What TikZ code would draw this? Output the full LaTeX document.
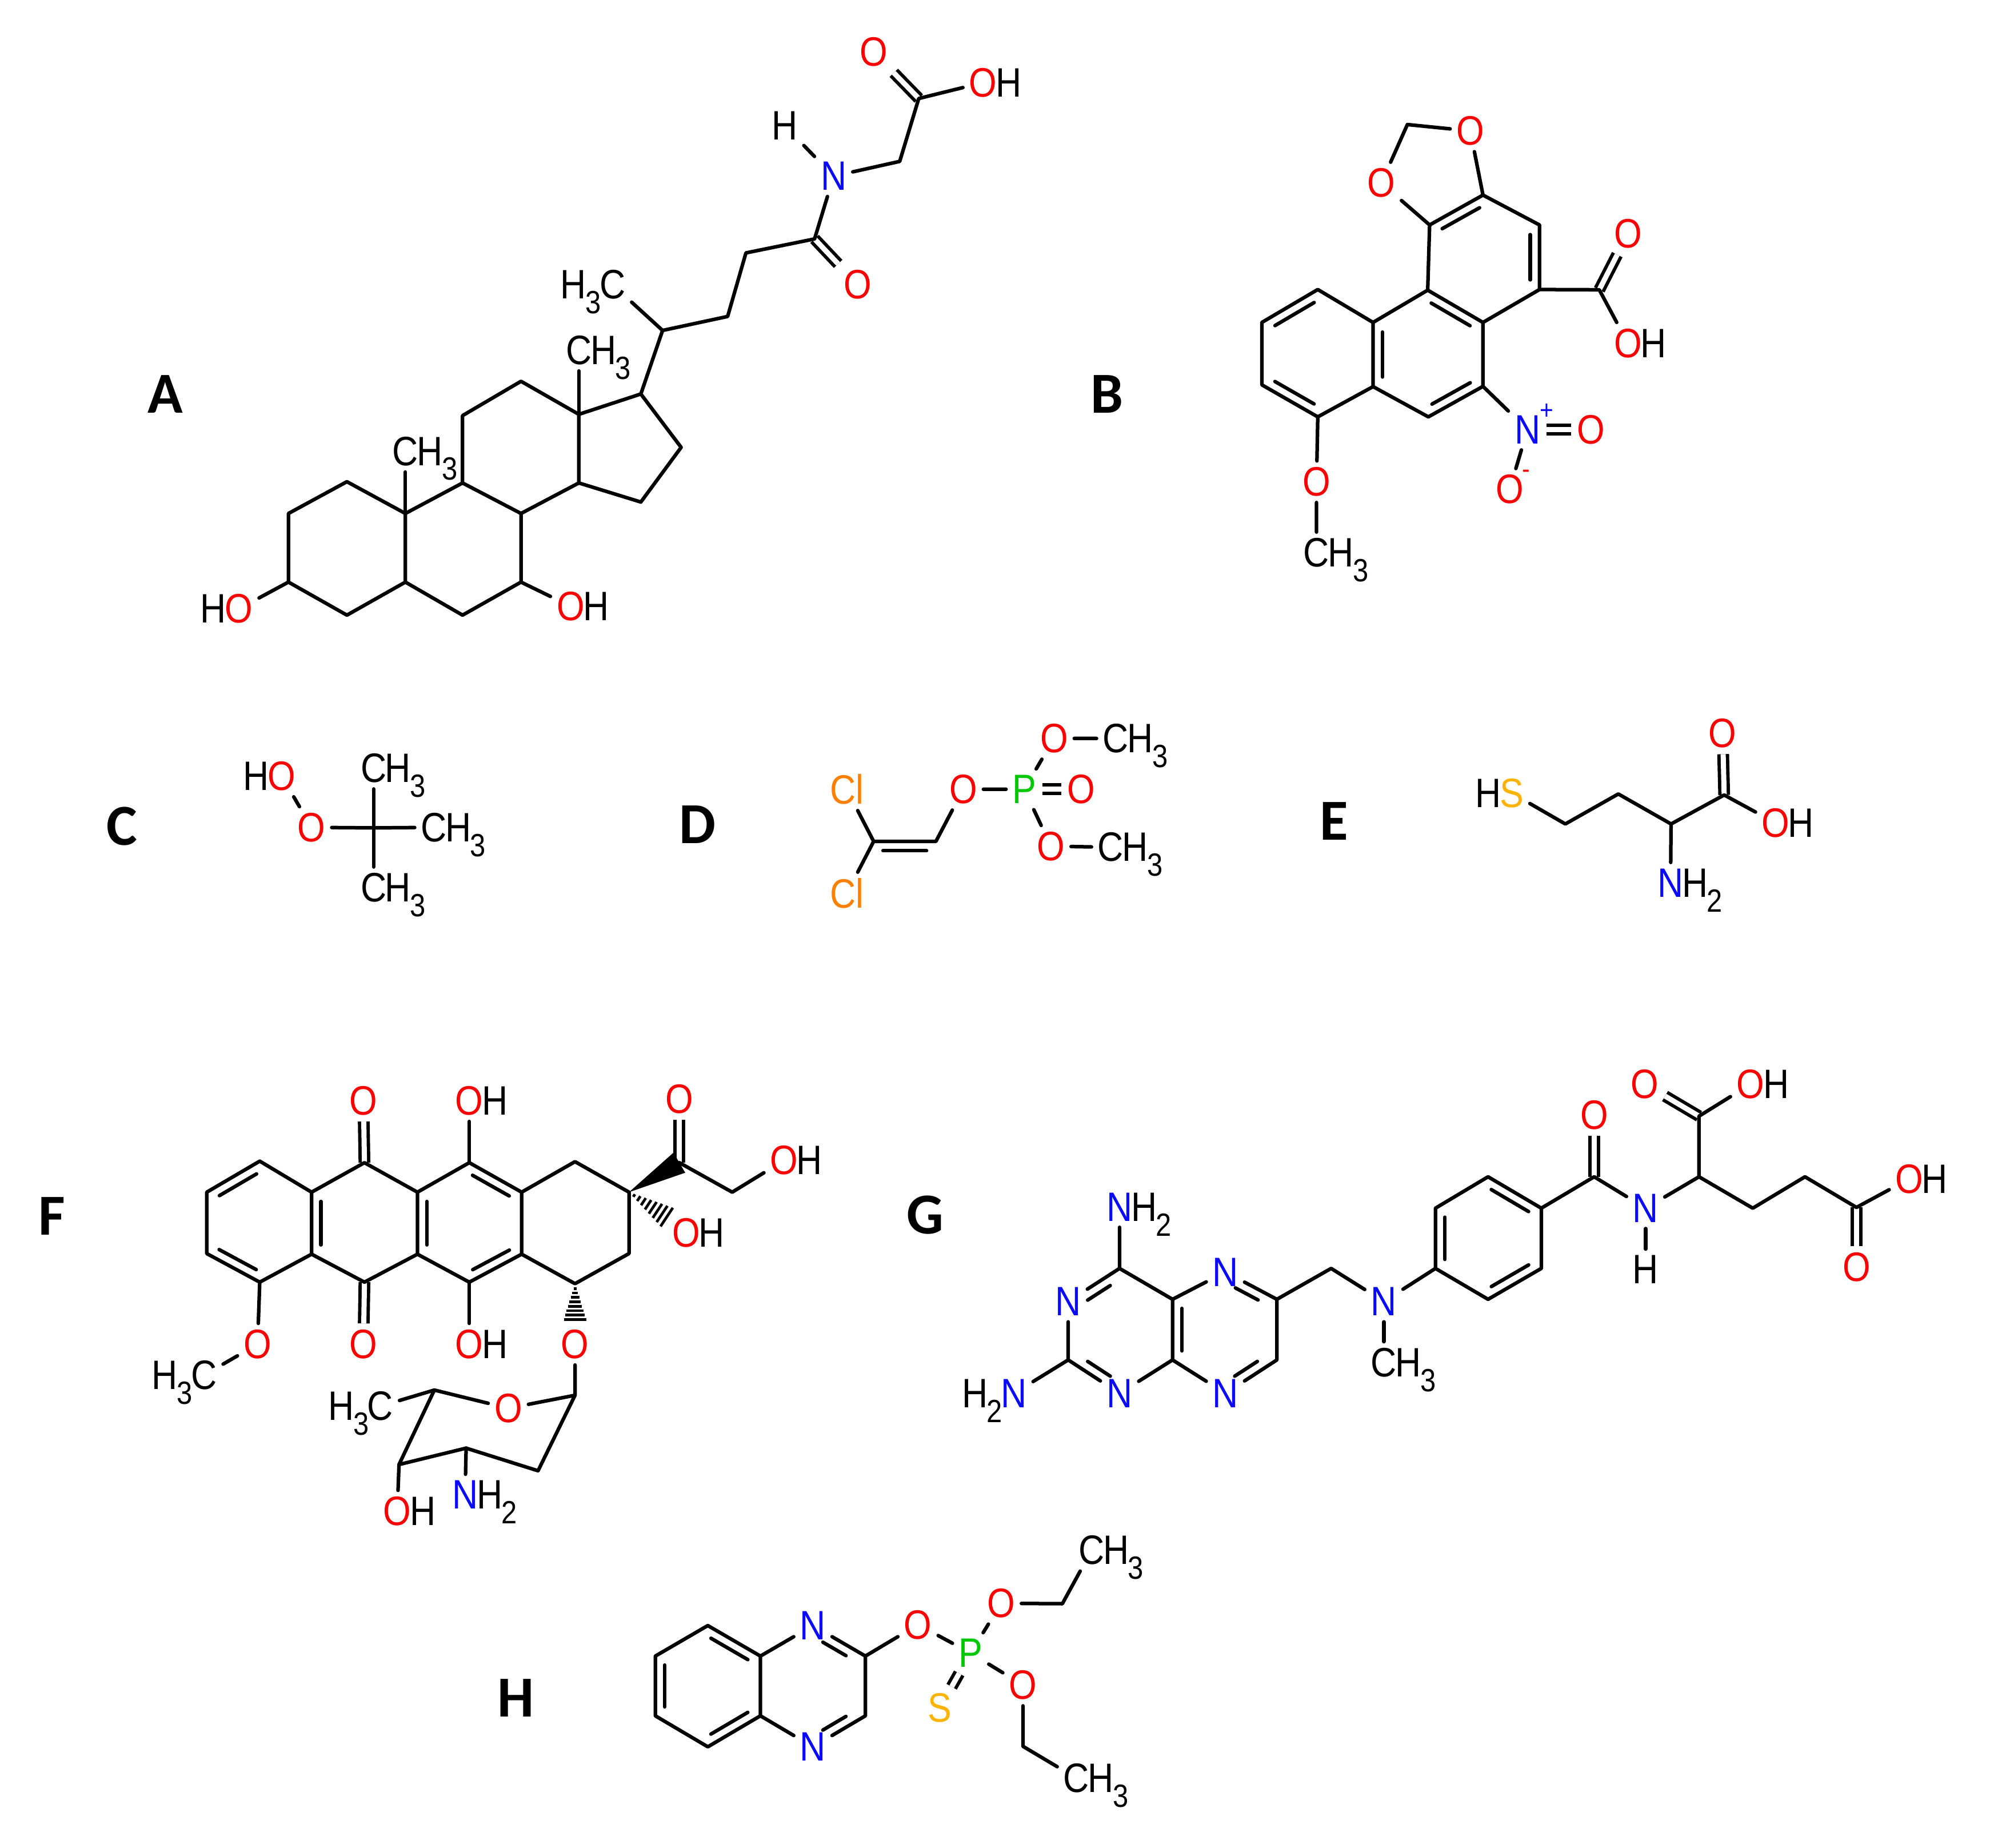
\documentclass[tikz,border=0pt]{standalone}
\usepackage{fontspec}
\setmainfont[FakeStretch=0.87]{Liberation Sans}
\newfontfamily\panelfont{Carlito}
\usetikzlibrary{calc}
\definecolor{atomred}{RGB}{255,0,0}
\definecolor{atomblue}{RGB}{10,10,255}
\definecolor{atomgreen}{RGB}{0,200,0}
\definecolor{atomorange}{RGB}{255,128,0}
\definecolor{atomyellow}{RGB}{255,178,0}
\newcommand{\sbs}[1]{\kern-.2pt\raisebox{-.36em}{\fontsize{7.2pt}{8pt}\selectfont #1}}
\newcommand{\innerbond}[3][.15]{\draw [bond] ($(#2)!#1!(#3)!2.1pt!90:(#3)$) -- ($(#3)!#1!(#2)!2.1pt!-90:(#2)$);}
\newcommand{\hashbond}[2]{\foreach \t in {.12,.23,...,1} {\draw [line width=.6pt] ($(#1)!\t!(#2)!\t*2.8pt!90:(#2)$) -- ($(#1)!\t!(#2)!\t*2.8pt!-90:(#2)$);}}
\newcommand{\wedgebond}[2]{\fill (#1) -- ($(#2)!2.6pt!90:(#1)$) -- ($(#2)!2.6pt!-90:(#1)$) -- cycle;}
\tikzset{
    atom/.style={font=\fontsize{9.2pt}{9.5pt}\selectfont, inner sep=1.2pt},
    oxy/.style={atom, text=atomred},
    nit/.style={atom, text=atomblue},
    sul/.style={atom, text=atomyellow},
    pho/.style={atom, text=atomgreen},
    chl/.style={atom, text=atomorange},
    tailr/.style={atom, inner sep=0pt, anchor=base west, xshift=-1.9pt},
    taill/.style={atom, inner sep=0pt, anchor=base east, xshift=1.9pt},
    charge/.style={font=\fontsize{6pt}{6pt}\selectfont, inner sep=0pt},
    panel/.style={font=\panelfont\bfseries\fontsize{13pt}{14pt}\selectfont, inner sep=0pt},
    bond/.style={line width=.8pt, line cap=round, line join=round},
    dblbond/.style={line width=.75pt, double, double distance=1.15pt}
}
\begin{document}
\begin{tikzpicture}[x=0.1mm, y=-0.1mm]
    \useasboundingbox (0,0) rectangle (1566,1454);
    \node (lblA) at (130,310) [panel] {A};
    \node (lblB) at (871,310) [panel] {B};
    \node (lblC) at (96,650) [panel] {C};
    \node (lblD) at (549,649) [panel] {D};
    \node (lblE) at (1050,646) [panel] {E};
    \node (lblF) at (41,957) [panel] {F};
    \node (lblG) at (728,956) [panel] {G};
    \node (lblH) at (406,1336) [panel] {H};

    \foreach \n/\x/\y in {a1/227/458, a2/227/404, a3/273/379, a4/319/404, a5/319/458, a6/273/484,
        a7/364/484, a8/410/458, a9/410/404, a10/364/380, a11/364/327, a12/410/300, a13/455.5/326,
        a14/455.5/380, a15/504.3/395, a16/536/352, a17/504.3/310, a18/521.4/260, a19/572.6/249,
        a20/587/199, a21/641/188, a22/708/127, a23/723/77.5}
        \coordinate (\n) at (\x,\y);
    \node (aOa) at (188,479) [oxy] {O};
    \node (aHa) at (aOa.base west) [taill] {H};
    \node (aOb) at (449,477) [oxy] {O};
    \node (aHb) at (aOb.base east) [tailr] {H};
    \node (aCa) at (319,355) [atom] {C};
    \node (aMa) at (aCa.base east) [tailr] {H\sbs{3}};
    \node (aCb) at (455.5,275.5) [atom] {C};
    \node (aMb) at (aCb.base east) [tailr] {H\sbs{3}};
    \node (aCc) at (482,224) [atom] {C};
    \node (aMc) at (aCc.base west) [taill] {H\sbs{3}};
    \node (aOc) at (675,224) [oxy] {O};
    \node (aN) at (656,138.6) [nit] {N};
    \node (aHc) at (617.5,99) [atom] {H};
    \node (aOd) at (687.5,41) [oxy] {O};
    \node (aOe) at (773.6,65) [oxy] {O};
    \node (aHe) at (aOe.base east) [tailr] {H};
    \draw [dblbond] (a21) -- (aOc);
    \draw [dblbond] (a23) -- (aOd);
    \draw [bond] (aOa) -- (a1) -- (a2) -- (a3) -- (a4) -- (a5) -- (a6) -- (a1);
    \draw [bond] (a4) -- (a10) -- (a9) -- (a8) -- (a7) -- (a5);
    \draw [bond] (a8) -- (aOb);
    \draw [bond] (a10) -- (a11) -- (a12) -- (a13) -- (a14) -- (a9);
    \draw [bond] (a14) -- (a15) -- (a16) -- (a17) -- (a13);
    \draw [bond] (a4) -- (aCa);
    \draw [bond] (a13) -- (aCb);
    \draw [bond] (a18) -- (aCc);
    \draw [bond] (a17) -- (a18) -- (a19) -- (a20) -- (a21) -- (aN) -- (a22) -- (a23) -- (aOe);
    \draw [bond] (aN) -- (aHc);

    \foreach \n/\x/\y in {b0/1107.5/98, b1/1125/177, b2/1167/153.5, b3/1211.5/177, b4/1211.5/227.8,
        b5/1167/253.7, b6/1123.5/228.3, b7/1080.5/253.7, b8/1080.5/304.2, b9/1124/328,
        b10/1167/304, b11/1037/227.8, b12/993/253.7, b13/993/302.8, b14/1037/328, b15/1258.5/228}
        \coordinate (\n) at (\x,\y);
    \node (bOa) at (1157,103) [oxy] {O};
    \node (bOb) at (1087,144) [oxy] {O};
    \node (bOc) at (1281,184) [oxy] {O};
    \node (bOd) at (1281,270) [oxy] {O};
    \node (bHd) at (bOd.base east) [tailr] {H};
    \node (bN) at (1202,338) [nit] {N};
    \node (bPlus) at (1217,324) [charge, text=atomblue] {+};
    \node (bOe) at (1252,338) [oxy] {O};
    \node (bOf) at (1188,385) [oxy] {O};
    \node (bMinus) at (1201,373) [charge, text=atomred] {-};
    \node (bOg) at (1036,379) [oxy] {O};
    \node (bC) at (1036,435) [atom] {C};
    \node (bMe) at (bC.base east) [tailr] {H\sbs{3}};
    \draw [dblbond] (b15) -- (bOc);
    \draw [dblbond] (bN) -- (bOe);
    \draw [bond] (bOb) -- (b0) -- (bOa) -- (b2) -- (b1) -- (bOb);
    \draw [bond] (b2) -- (b3) -- (b4) -- (b5) -- (b6) -- (b1);
    \draw [bond] (b6) -- (b7) -- (b8) -- (b9) -- (b10) -- (b5);
    \draw [bond] (b7) -- (b11) -- (b12) -- (b13) -- (b14) -- (b8);
    \draw [bond] (b14) -- (bOg) -- (bC);
    \draw [bond] (b4) -- (b15) -- (bOd);
    \draw [bond] (b10) -- (bN) -- (bOf);
    \innerbond{b2}{b1}
    \innerbond{b4}{b3}
    \innerbond{b5}{b6}
    \innerbond{b7}{b8}
    \innerbond{b9}{b10}
    \innerbond{b11}{b12}
    \innerbond{b13}{b14}

    \coordinate (c1) at (294,651.4);
    \node (cOa) at (221.6,610.6) [oxy] {O};
    \node (cHa) at (cOa.base west) [taill] {H};
    \node (cOb) at (245.2,651) [oxy] {O};
    \node (cCa) at (294,604.4) [atom] {C};
    \node (cMa) at (cCa.base east) [tailr] {H\sbs{3}};
    \node (cCb) at (341.4,651) [atom] {C};
    \node (cMb) at (cCb.base east) [tailr] {H\sbs{3}};
    \node (cCc) at (294,698.5) [atom] {C};
    \node (cMc) at (cCc.base east) [tailr] {H\sbs{3}};
    \draw [bond] (cOa) -- (cOb) -- (c1) -- (cCb);
    \draw [bond] (cCa) -- (c1) -- (cCc);

    \coordinate (d1) at (687.5,662);
    \coordinate (d2) at (736.5,662);
    \node (dCla) at (666.3,621) [chl] {Cl};
    \node (dClb) at (666.3,703) [chl] {Cl};
    \node (dOa) at (758,621) [oxy] {O};
    \node (dP) at (806,621) [pho] {P};
    \node (dOb) at (851,621) [oxy] {O};
    \node (dOc) at (829.5,581) [oxy] {O};
    \node (dCa) at (878,581) [atom] {C};
    \node (dMa) at (dCa.base east) [tailr] {H\sbs{3}};
    \node (dOd) at (827,665.8) [oxy] {O};
    \node (dCb) at (874,666.6) [atom] {C};
    \node (dMb) at (dCb.base east) [tailr] {H\sbs{3}};
    \draw [dblbond] (dP) -- (dOb);
    \draw [bond] (dCla) -- (d1) -- (dClb);
    \draw [bond] (d1) -- (d2) -- (dOa) -- (dP) -- (dOc) -- (dCa);
    \draw [bond] (dP) -- (dOd) -- (dCb);
    \innerbond{d2}{d1}

    \foreach \n/\x/\y in {e1/1231.8/648.3, e2/1273.5/624.7, e3/1315/648.3, e4/1356.8/625.5}
        \coordinate (\n) at (\x,\y);
    \node (eS) at (1189.6,624) [sul] {S};
    \node (eHs) at (eS.base west) [taill] {H};
    \node (eOa) at (1355.6,577) [oxy] {O};
    \node (eOb) at (1397.3,647.5) [oxy] {O};
    \node (eHb) at (eOb.base east) [tailr] {H};
    \node (eN) at (1314.6,694.6) [nit] {N};
    \node (eHn) at (eN.base east) [tailr] {H\sbs{2}};
    \draw [dblbond] (e4) -- (eOa);
    \draw [bond] (eS) -- (e1) -- (e2) -- (e3) -- (e4) -- (eOb);
    \draw [bond] (e3) -- (eN);

    \foreach \n/\x/\y in {f1/204.4/913.6, f2/162.7/938, f3/162.7/986.3, f4/204.4/1008.8, f5/245.2/986.8,
        f6/245.2/938, f7/286.8/914.8, f8/328.5/938, f9/328.5/986.8, f10/286.8/1008.8, f11/369.3/914.8,
        f12/410.5/938, f13/410.5/986.8, f14/369.3/1008.8, f15/452.5/914, f16/495/938, f17/495/986.3,
        f18/452.5/1010, f19/534.6/914.8, f20/576.2/938, s1/452.5/1097.8, s2/423.4/1157.2,
        s3/366.8/1139.4, s4/314/1152.3, s5/341.8/1093.7, fHa/528.3/960, fHb/452.5/1041.7}
        \coordinate (\n) at (\x,\y);
    \node (fOa) at (286,866) [oxy] {O};
    \node (fOb) at (369.3,866) [oxy] {O};
    \node (fHOb) at (fOb.base east) [tailr] {H};
    \node (fOc) at (534.6,864.7) [oxy] {O};
    \node (fOd) at (617,913) [oxy] {O};
    \node (fHOd) at (fOd.base east) [tailr] {H};
    \node (fOe) at (540,970) [oxy] {O};
    \node (fHOe) at (fOe.base east) [tailr] {H};
    \node (fOf) at (286,1057.6) [oxy] {O};
    \node (fOg) at (369.3,1057.6) [oxy] {O};
    \node (fHOg) at (fOg.base east) [tailr] {H};
    \node (fOh) at (452.5,1057.6) [oxy] {O};
    \node (fOi) at (202.7,1057.6) [oxy] {O};
    \node (fCa) at (160.5,1082) [atom] {C};
    \node (fMa) at (fCa.base west) [taill] {H\sbs{3}};
    \node (fOj) at (400,1108) [oxy] {O};
    \node (fCb) at (299.3,1106.4) [atom] {C};
    \node (fMb) at (fCb.base west) [taill] {H\sbs{3}};
    \node (fOk) at (312.6,1189) [oxy] {O};
    \node (fHOk) at (fOk.base east) [tailr] {H};
    \node (fN) at (366,1176) [nit] {N};
    \node (fHn) at (fN.base east) [tailr] {H\sbs{2}};
    \draw [dblbond] (f7) -- (fOa);
    \draw [dblbond] (f10) -- (fOf);
    \draw [dblbond] (f19) -- (fOc);
    \draw [bond] (f1) -- (f2) -- (f3) -- (f4) -- (f5) -- (f6) -- (f1);
    \draw [bond] (f6) -- (f7) -- (f8) -- (f9) -- (f10) -- (f5);
    \draw [bond] (f8) -- (f11) -- (f12) -- (f13) -- (f14) -- (f9);
    \draw [bond] (f12) -- (f15) -- (f16) -- (f17) -- (f18) -- (f13);
    \draw [bond] (f11) -- (fOb);
    \draw [bond] (f14) -- (fOg);
    \draw [bond] (f4) -- (fOi) -- (fCa);
    \draw [bond] (f19) -- (f20) -- (fOd);
    \draw [bond] (fOh) -- (s1) -- (s2) -- (s3) -- (s4) -- (s5) -- (fOj) -- (s1);
    \draw [bond] (s5) -- (fCb);
    \draw [bond] (s4) -- (fOk);
    \draw [bond] (s3) -- (fN);
    \wedgebond{f16}{f19}
    \hashbond{f16}{fHa}
    \hashbond{f18}{fHb}
    \innerbond{f1}{f2}
    \innerbond{f3}{f4}
    \innerbond{f6}{f5}
    \innerbond{f8}{f9}
    \innerbond{f12}{f11}
    \innerbond{f14}{f13}

    \foreach \n/\x/\y in {g1/881/998, g2/840.6/1070, g3/922.7/1070, g4/922.7/1022.3, g5/1004.8/1022.3,
        g6/1004.8/1070, g7/1047.5/998, g8/1129.6/998, g9/1129.6/950.6, g10/1171/925.9, g11/1212.9/950.6,
        g12/1212.9/998, g13/1171/1022.3, g14/1254.5/925.9, g15/1337/925.9, g16/1337/878.2,
        g17/1379.3/950.6, g18/1420.4/925.9, g19/1460.9/950}
        \coordinate (\n) at (\x,\y);
    \node (gNa) at (881,949.6) [nit] {N};
    \node (gHa) at (gNa.base east) [tailr] {H\sbs{2}};
    \node (gNb) at (840.6,1024) [nit] {N};
    \node (gNc) at (797.9,1096.3) [nit] {N};
    \node (gHc) at (gNc.base west) [taill] {H\sbs{2}};
    \node (gNd) at (881,1096.3) [nit] {N};
    \node (gNe) at (964.3,1000.8) [nit] {N};
    \node (gNf) at (964.3,1096.3) [nit] {N};
    \node (gNg) at (1089,1024) [nit] {N};
    \node (gC) at (1089,1072) [atom] {C};
    \node (gMe) at (gC.base east) [tailr] {H\sbs{3}};
    \node (gOa) at (1254.5,877.2) [oxy] {O};
    \node (gNh) at (1295,950.6) [nit] {N};
    \node (gHh) at (1295,998.8) [atom] {H};
    \node (gOb) at (1294.4,853) [oxy] {O};
    \node (gOc) at (1377.6,853) [oxy] {O};
    \node (gHOc) at (gOc.base east) [tailr] {H};
    \node (gOd) at (1502.5,927.5) [oxy] {O};
    \node (gHOd) at (gOd.base east) [tailr] {H};
    \node (gOe) at (1460.9,996.8) [oxy] {O};
    \draw [dblbond] (g14) -- (gOa);
    \draw [dblbond] (g16) -- (gOb);
    \draw [dblbond] (g19) -- (gOe);
    \draw [bond] (g1) -- (gNb) -- (g2) -- (gNd) -- (g3) -- (g4) -- (g1) -- (gNa);
    \draw [bond] (g2) -- (gNc);
    \draw [bond] (g4) -- (gNe) -- (g5) -- (g6) -- (gNf) -- (g3);
    \draw [bond] (g5) -- (g7) -- (gNg) -- (g8) -- (g9) -- (g10) -- (g11) -- (g12) -- (g13) -- (g8);
    \draw [bond] (gNg) -- (gC);
    \draw [bond] (g11) -- (g14) -- (gNh) -- (g15) -- (g16) -- (gOc);
    \draw [bond] (gNh) -- (gHh);
    \draw [bond] (g15) -- (g17) -- (g18) -- (g19) -- (gOd);
    \innerbond[.28]{g1}{gNb}
    \innerbond[.28]{g2}{gNd}
    \innerbond{g4}{g3}
    \innerbond[.28]{gNf}{g6}
    \innerbond[.28]{g5}{gNe}
    \innerbond{g9}{g8}
    \innerbond{g13}{g12}
    \innerbond{g11}{g10}

    \foreach \n/\x/\y in {h1/557/1279, h2/515.7/1303, h3/515.7/1350, h4/557/1374.4, h5/598.4/1350,
        h6/598.4/1303, h7/681/1303, h8/681/1350, h9/836/1261.8, h10/805/1374}
        \coordinate (\n) at (\x,\y);
    \node (hNa) at (639.7,1279) [nit] {N};
    \node (hNb) at (639.7,1374.4) [nit] {N};
    \node (hOa) at (722.4,1278.3) [oxy] {O};
    \node (hP) at (763.8,1300.6) [pho] {P};
    \node (hOb) at (787.9,1261.5) [oxy] {O};
    \node (hCa) at (859,1219.8) [atom] {C};
    \node (hMa) at (hCa.base east) [tailr] {H\sbs{3}};
    \node (hOc) at (805,1325.8) [oxy] {O};
    \node (hCb) at (847,1399) [atom] {C};
    \node (hMb) at (hCb.base east) [tailr] {H\sbs{3}};
    \node (hS) at (739.7,1343.5) [sul] {S};
    \draw [dblbond] (hP) -- (hS);
    \draw [bond] (h1) -- (h2) -- (h3) -- (h4) -- (h5) -- (h6) -- (h1);
    \draw [bond] (h6) -- (hNa) -- (h7) -- (h8) -- (hNb) -- (h5);
    \draw [bond] (h7) -- (hOa) -- (hP) -- (hOb) -- (h9) -- (hCa);
    \draw [bond] (hP) -- (hOc) -- (h10) -- (hCb);
    \innerbond{h2}{h3}
    \innerbond{h4}{h5}
    \innerbond{h6}{h1}
    \innerbond[.28]{h7}{hNa}
    \innerbond[.28]{hNb}{h8}
\end{tikzpicture}
\end{document}
